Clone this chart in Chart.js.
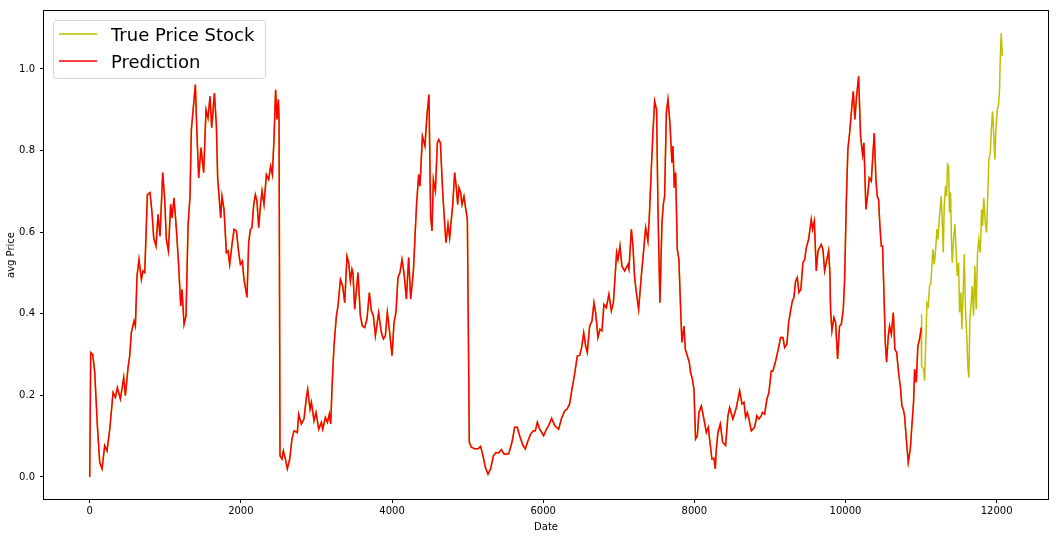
<!DOCTYPE html>
<html>
<head>
<meta charset="utf-8">
<script src="https://cdn.jsdelivr.net/npm/chart.js@4.4.1/dist/chart.umd.min.js"></script>
<style>
  html, body { margin: 0; padding: 0; background: #fff; }
  #priceChart { display: block; }
</style>
</head>
<body>
<canvas id="priceChart" width="1059" height="538"></canvas>
<script>
// day index (x) and normalised average price, training part (prediction overlaps true price here)
const trainDates = [
  0, 13, 40, 66, 101, 132, 163, 198, 229, 265,
  309, 340, 366, 406, 450, 472, 507, 529, 551, 586,
  604, 626, 652, 684, 705, 728, 763, 798, 824, 847,
  877, 904, 930, 966, 992, 1014, 1041, 1071, 1089, 1115,
  1147, 1177, 1204, 1221, 1248, 1274, 1301, 1327, 1345, 1372,
  1398, 1415, 1442, 1472, 1508, 1539, 1565, 1592, 1614, 1650,
  1676, 1693, 1733, 1750, 1777, 1808, 1830, 1852, 1883, 1910,
  1941, 1971, 1994, 2020, 2041, 2064, 2081, 2103, 2126, 2147,
  2170, 2192, 2213, 2236, 2258, 2280, 2306, 2338, 2368, 2394,
  2417, 2438, 2460, 2478, 2496, 2505, 2518, 2544, 2562, 2589,
  2615, 2646, 2676, 2703, 2747, 2765, 2800, 2835, 2867, 2884,
  2915, 2933, 2968, 2994, 3030, 3065, 3083, 3118, 3145, 3171,
  3189, 3206, 3232, 3264, 3285, 3317, 3347, 3374, 3404, 3427,
  3449, 3470, 3483, 3506, 3550, 3581, 3608, 3638, 3669, 3700,
  3727, 3753, 3780, 3823, 3859, 3886, 3912, 3938, 3969, 4000,
  4026, 4052, 4079, 4105, 4132, 4158, 4190, 4220, 4247, 4283,
  4309, 4326, 4353, 4370, 4402, 4436, 4463, 4489, 4511, 4529,
  4547, 4574, 4600, 4617, 4640, 4670, 4693, 4714, 4741, 4763,
  4785, 4802, 4829, 4851, 4869, 4886, 4908, 4926, 4952, 4970,
  4997, 5023, 5050, 5094, 5137, 5173, 5208, 5235, 5270, 5305,
  5341, 5375, 5410, 5447, 5481, 5543, 5587, 5623, 5658, 5689,
  5733, 5764, 5799, 5834, 5870, 5896, 5923, 5954, 6006, 6042,
  6073, 6112, 6152, 6205, 6240, 6284, 6315, 6350, 6381, 6416,
  6452, 6483, 6509, 6536, 6562, 6584, 6615, 6646, 6672, 6694,
  6725, 6751, 6778, 6804, 6836, 6870, 6902, 6929, 6972, 6990,
  7016, 7042, 7078, 7122, 7135, 7167, 7188, 7210, 7233, 7263,
  7299, 7329, 7356, 7386, 7405, 7431, 7453, 7475, 7501, 7519,
  7545, 7572, 7590, 7607, 7630, 7651, 7677, 7704, 7717, 7735,
  7753, 7775, 7796, 7819, 7836, 7863, 7881, 7907, 7934, 7951,
  7974, 7995, 8017, 8040, 8061, 8093, 8123, 8159, 8185, 8207,
  8233, 8260, 8278, 8291, 8313, 8344, 8375, 8414, 8445, 8467,
  8511, 8556, 8600, 8630, 8657, 8679, 8701, 8723, 8754, 8798,
  8828, 8855, 8887, 8900, 8930, 8961, 8987, 9018, 9040, 9072,
  9106, 9142, 9173, 9195, 9225, 9248, 9274, 9297, 9318, 9340,
  9363, 9384, 9410, 9437, 9460, 9482, 9512, 9548, 9565, 9588,
  9614, 9636, 9680, 9702, 9724, 9750, 9777, 9794, 9803, 9821,
  9847, 9870, 9896, 9922, 9945, 9971, 9989, 10011, 10032, 10055,
  10077, 10103, 10125, 10147, 10174, 10200, 10227, 10244, 10271, 10297,
  10315, 10342, 10359, 10381, 10403, 10421, 10438, 10456, 10474, 10491,
  10509, 10527, 10544, 10567, 10584, 10607, 10633, 10654, 10677, 10703,
  10730, 10747, 10765, 10782, 10805, 10831, 10858, 10879, 10901, 10915,
  10937, 10958, 10981, 11003
];
const trainPrice = [
  0.000, 0.305, 0.300, 0.257, 0.126, 0.036, 0.020, 0.077, 0.064, 0.117,
  0.207, 0.195, 0.219, 0.191, 0.244, 0.199, 0.268, 0.297, 0.354, 0.382,
  0.370, 0.493, 0.533, 0.484, 0.505, 0.501, 0.692, 0.697, 0.648, 0.586,
  0.566, 0.644, 0.590, 0.746, 0.680, 0.582, 0.554, 0.668, 0.635, 0.684,
  0.607, 0.517, 0.419, 0.460, 0.374, 0.395, 0.615, 0.688, 0.851, 0.908,
  0.962, 0.860, 0.733, 0.807, 0.746, 0.900, 0.880, 0.933, 0.856, 0.941,
  0.860, 0.733, 0.635, 0.688, 0.656, 0.550, 0.554, 0.521, 0.570, 0.607,
  0.603, 0.550, 0.521, 0.529, 0.484, 0.460, 0.440, 0.574, 0.607, 0.611,
  0.668, 0.692, 0.676, 0.611, 0.664, 0.701, 0.668, 0.741, 0.729, 0.762,
  0.741, 0.827, 0.949, 0.876, 0.925, 0.880, 0.052, 0.044, 0.064, 0.044,
  0.020, 0.044, 0.093, 0.113, 0.109, 0.154, 0.130, 0.142, 0.195, 0.215,
  0.166, 0.183, 0.138, 0.158, 0.117, 0.134, 0.117, 0.146, 0.134, 0.154,
  0.130, 0.219, 0.321, 0.395, 0.419, 0.484, 0.468, 0.427, 0.541, 0.525,
  0.480, 0.509, 0.500, 0.411, 0.501, 0.395, 0.370, 0.366, 0.387, 0.452,
  0.407, 0.395, 0.346, 0.403, 0.354, 0.338, 0.346, 0.403, 0.354, 0.297,
  0.378, 0.403, 0.489, 0.501, 0.533, 0.501, 0.436, 0.538, 0.436, 0.505,
  0.607, 0.672, 0.741, 0.713, 0.835, 0.811, 0.888, 0.937, 0.639, 0.603,
  0.729, 0.701, 0.819, 0.827, 0.819, 0.701, 0.631, 0.574, 0.619, 0.586,
  0.631, 0.664, 0.746, 0.709, 0.668, 0.709, 0.697, 0.668, 0.688, 0.664,
  0.631, 0.085, 0.073, 0.069, 0.069, 0.075, 0.048, 0.024, 0.007, 0.020,
  0.052, 0.060, 0.059, 0.067, 0.056, 0.056, 0.085, 0.122, 0.122, 0.101,
  0.077, 0.069, 0.089, 0.105, 0.113, 0.113, 0.134, 0.117, 0.101, 0.117,
  0.126, 0.144, 0.126, 0.117, 0.142, 0.162, 0.166, 0.179, 0.215, 0.252,
  0.297, 0.298, 0.317, 0.354, 0.321, 0.305, 0.370, 0.382, 0.427, 0.403,
  0.342, 0.362, 0.358, 0.423, 0.415, 0.448, 0.407, 0.427, 0.550, 0.533,
  0.566, 0.517, 0.505, 0.521, 0.510, 0.607, 0.566, 0.489, 0.452, 0.411,
  0.493, 0.554, 0.611, 0.578, 0.639, 0.754, 0.847, 0.921, 0.900, 0.656,
  0.427, 0.623, 0.668, 0.688, 0.892, 0.925, 0.868, 0.770, 0.811, 0.709,
  0.746, 0.558, 0.533, 0.411, 0.330, 0.370, 0.313, 0.297, 0.281, 0.256,
  0.240, 0.215, 0.093, 0.101, 0.158, 0.174, 0.146, 0.109, 0.122, 0.085,
  0.044, 0.046, 0.020, 0.069, 0.109, 0.130, 0.085, 0.077, 0.150, 0.170,
  0.142, 0.170, 0.211, 0.179, 0.183, 0.146, 0.158, 0.142, 0.113, 0.122,
  0.150, 0.142, 0.150, 0.158, 0.154, 0.191, 0.207, 0.260, 0.260, 0.281,
  0.309, 0.342, 0.342, 0.317, 0.325, 0.378, 0.407, 0.431, 0.440, 0.480,
  0.489, 0.452, 0.460, 0.525, 0.533, 0.562, 0.582, 0.631, 0.607, 0.627,
  0.505, 0.554, 0.570, 0.558, 0.505, 0.529, 0.554, 0.501, 0.411, 0.358,
  0.391, 0.378, 0.289, 0.370, 0.374, 0.411, 0.484, 0.672, 0.803, 0.843,
  0.892, 0.945, 0.876, 0.933, 0.982, 0.835, 0.790, 0.819, 0.656, 0.697,
  0.733, 0.725, 0.778, 0.843, 0.729, 0.688, 0.680, 0.615, 0.566, 0.566,
  0.452, 0.330, 0.281, 0.346, 0.370, 0.350, 0.403, 0.313, 0.305, 0.256,
  0.215, 0.174, 0.166, 0.150, 0.093, 0.036, 0.069, 0.126, 0.183, 0.264,
  0.232, 0.321, 0.338, 0.366
];

// test part, only the true price
const testDates = [
  11003, 11012, 11034, 11047, 11060, 11078, 11096, 11113, 11131, 11157,
  11175, 11192, 11210, 11223, 11241, 11267, 11280, 11294, 11307, 11325,
  11338, 11351, 11364, 11377, 11391, 11404, 11413, 11430, 11448, 11461,
  11479, 11497, 11510, 11527, 11540, 11554, 11572, 11589, 11607, 11620,
  11633, 11646, 11664, 11677, 11695, 11712, 11730, 11748, 11765, 11784,
  11801, 11814, 11831, 11850, 11867, 11884, 11897, 11916, 11933, 11946,
  11964, 11977, 11990, 12009, 12026, 12039, 12048, 12061, 12075
];
const testPrice = [
  0.399, 0.272, 0.264, 0.236, 0.313, 0.427, 0.419, 0.468, 0.476, 0.558,
  0.521, 0.554, 0.607, 0.582, 0.631, 0.688, 0.631, 0.550, 0.664, 0.713,
  0.688, 0.766, 0.762, 0.648, 0.697, 0.566, 0.525, 0.582, 0.619, 0.566,
  0.493, 0.525, 0.403, 0.452, 0.362, 0.436, 0.546, 0.403, 0.338, 0.268,
  0.244, 0.387, 0.427, 0.468, 0.395, 0.517, 0.411, 0.550, 0.582, 0.550,
  0.656, 0.615, 0.684, 0.623, 0.599, 0.697, 0.778, 0.794, 0.860, 0.896,
  0.831, 0.778, 0.851, 0.900, 0.913, 0.949, 1.023, 1.088, 1.031
];

const xTicks = [0, 2000, 4000, 6000, 8000, 10000, 12000];
const yTicks = [0.0, 0.2, 0.4, 0.6, 0.8, 1.0];

const toPoints = (xs, ys) => xs.map((x, i) => ({ x: x, y: ys[i] }));
const truePoints = toPoints(trainDates.concat(testDates), trainPrice.concat(testPrice));
const predPoints = toPoints(trainDates, trainPrice);

Chart.defaults.font.family = "'DejaVu Sans', sans-serif";
Chart.defaults.font.size = 10;
Chart.defaults.color = "#000";

// matplotlib-like box around the plot area
const frame = {
  id: "frame",
  afterDraw(chart) {
    const { ctx, chartArea: a } = chart;
    ctx.save();
    ctx.strokeStyle = "#000";
    ctx.lineWidth = 1;
    ctx.strokeRect(Math.round(a.left) - 0.5, Math.round(a.top) - 0.5,
      Math.round(a.right - a.left) + 1, Math.round(a.bottom - a.top) + 1);
    ctx.restore();
  },
};

// legend in the upper left corner, framed like matplotlib's
const boxLegend = {
  id: "boxLegend",
  afterDraw(chart) {
    const { ctx, chartArea: a } = chart;
    const x = a.left + 9.5, y = a.top + 9.5, w = 212, h = 58, r = 3;
    ctx.save();
    ctx.beginPath();
    ctx.roundRect(x, y, w, h, r);
    ctx.fillStyle = "rgba(255,255,255,0.8)";
    ctx.fill();
    ctx.strokeStyle = "rgba(204,204,204,0.8)";
    ctx.lineWidth = 1;
    ctx.stroke();
    ctx.font = "18px 'DejaVu Sans', sans-serif";
    ctx.textBaseline = "alphabetic";
    chart.data.datasets.forEach((ds, i) => {
      const ly = a.top + 23 + i * 27;
      ctx.beginPath();
      ctx.moveTo(a.left + 15, ly);
      ctx.lineTo(a.left + 53, ly);
      ctx.strokeStyle = ds.borderColor;
      ctx.lineWidth = 1.5;
      ctx.stroke();
      ctx.fillStyle = "#000";
      ctx.fillText(ds.label, a.left + 67, ly + 7);
    });
    ctx.restore();
  },
};

new Chart(document.getElementById("priceChart"), {
  type: "line",
  data: {
    datasets: [
      {
        label: "True Price Stock",
        data: truePoints,
        borderColor: "#bfbf00",
        borderWidth: 1.5,
        pointRadius: 0,
        tension: 0,
        order: 1,
      },
      {
        label: "Prediction",
        data: predPoints,
        borderColor: "#ff0000",
        borderWidth: 1.5,
        pointRadius: 0,
        tension: 0,
        order: 0,
      },
    ],
  },
  options: {
    responsive: false,
    animation: false,
    layout: { padding: { top: 11, right: 11, left: 0, bottom: 0 } },
    plugins: {
      legend: { display: false },
      tooltip: { enabled: false },
    },
    scales: {
      x: {
        type: "linear",
        min: -605,
        max: 12680,
        afterBuildTicks: (scale) => { scale.ticks = xTicks.map((v) => ({ value: v })); },
        afterFit: (scale) => { scale.height = 39; },
        ticks: { padding: 2, maxRotation: 0, callback: (v) => String(v) },
        grid: { drawOnChartArea: false, drawTicks: true, tickLength: 4, color: "#000" },
        border: { display: false },
        title: { display: true, text: "Date", padding: { top: 0, bottom: 5 } },
      },
      y: {
        type: "linear",
        min: -0.054,
        max: 1.142,
        afterBuildTicks: (scale) => { scale.ticks = yTicks.map((v) => ({ value: v })); },
        afterFit: (scale) => { scale.width = 44; },
        ticks: { padding: 5, callback: (v) => Number(v).toFixed(1) },
        grid: { drawOnChartArea: false, drawTicks: true, tickLength: 4, color: "#000" },
        border: { display: false },
        title: { display: true, text: "avg Price", padding: { top: 5, bottom: 0 } },
      },
    },
  },
  plugins: [frame, boxLegend],
});
</script>
</body>
</html>
